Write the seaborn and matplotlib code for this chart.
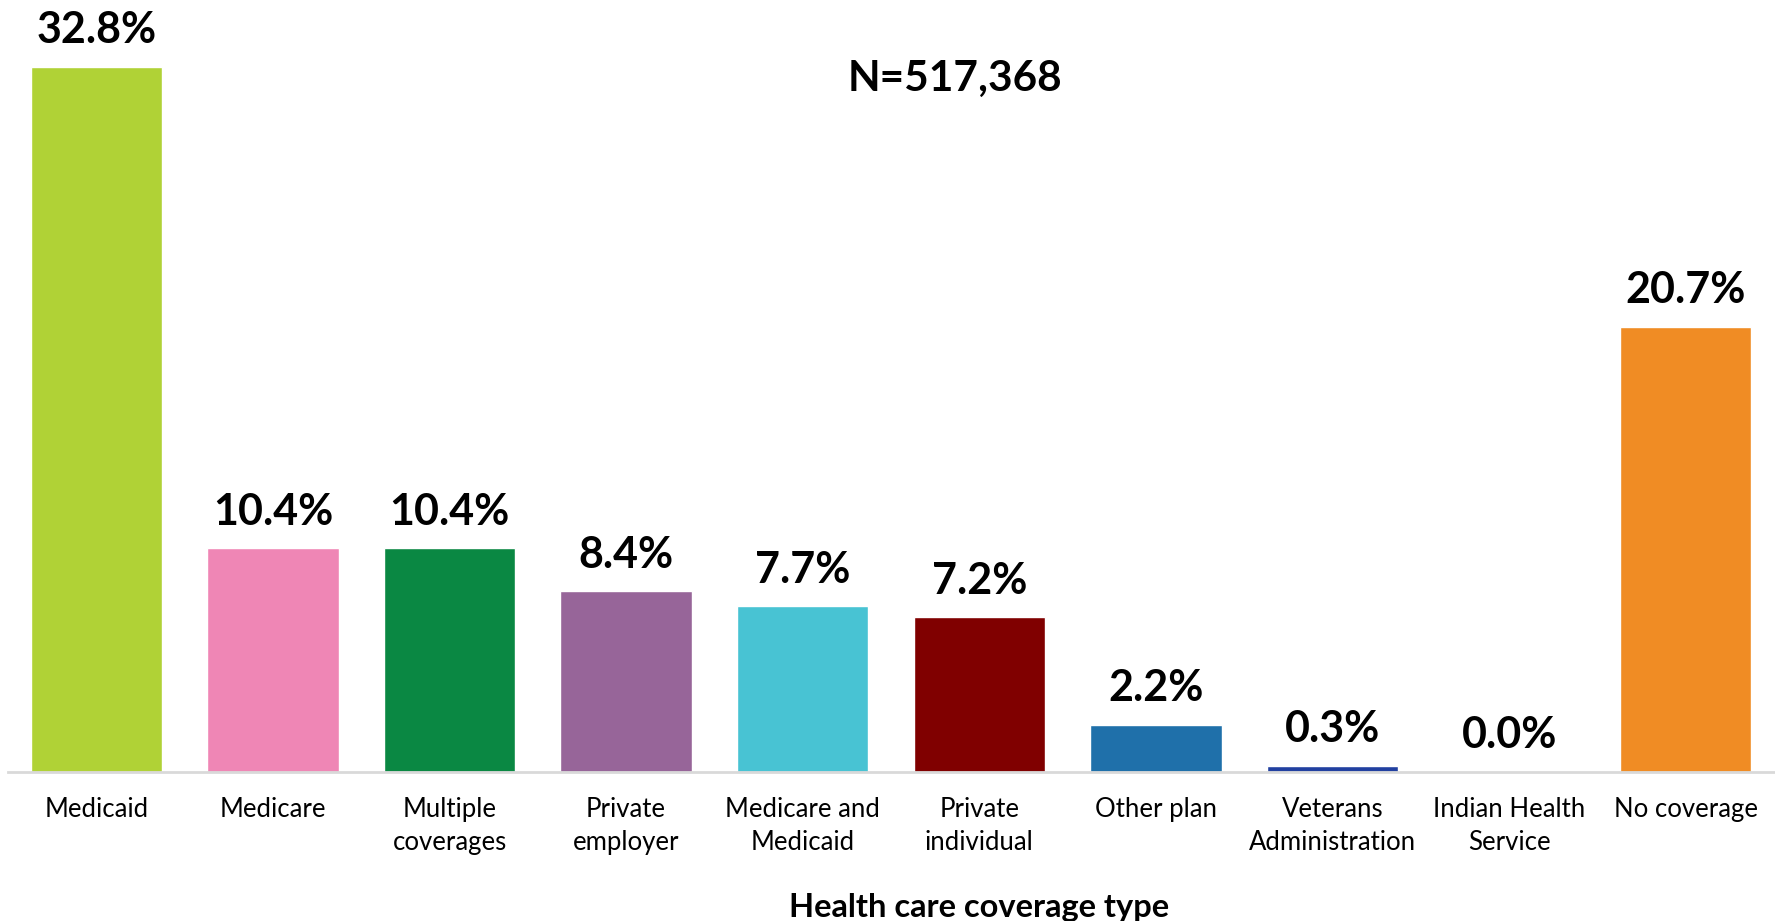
import matplotlib
matplotlib.use("Agg")
import matplotlib.pyplot as plt
import seaborn as sns
import pandas as pd

categories = ["Medicaid", "Medicare", "Multiple\ncoverages", "Private\nemployer",
              "Medicare and\nMedicaid", "Private\nindividual", "Other plan",
              "Veterans\nAdministration", "Indian Health\nService", "No coverage"]
values = [32.8, 10.4, 10.4, 8.4, 7.7, 7.2, 2.2, 0.3, 0.0, 20.7]
colors = ["#B0D236", "#EF86B5", "#0A8843", "#976599", "#48C3D3",
          "#800000", "#1F70AA", "#2140A0", "#7F7F7F", "#F08C24"]
title_text = "N=517,368"
xlabel_text = "Health care coverage type"

sns.set_theme(style="white")
plt.rcParams["font.family"] = ["Lato", "DejaVu Sans"]

df = pd.DataFrame({"cat": categories, "val": values})

fig = plt.figure(figsize=(17.75, 9.21), dpi=100)
ax = fig.add_axes([8 / 1775, 149 / 921, 1766 / 1775, 772 / 921])
sns.barplot(data=df, x="cat", y="val", hue="cat", palette=colors,
            legend=False, width=0.745, saturation=1, ax=ax)

ax.set_xlim(-0.5, len(categories) - 0.5)
ax.set_ylim(0, 35.9)

for i, v in enumerate(values):
    ax.annotate(f"{v:.1f}%", xy=(i, v), xytext=(0, 12), textcoords="offset points",
                ha="center", va="bottom", fontsize=31, fontweight="bold",
                color="black", annotation_clip=False)

ax.text(0.536, 0.898, title_text, transform=ax.transAxes, ha="center", va="center",
        fontsize=30.5, fontweight="bold", color="black")

for s in ["top", "right", "left"]:
    ax.spines[s].set_visible(False)
ax.spines["bottom"].set_color("#D9D9D9")
ax.spines["bottom"].set_linewidth(2)
ax.set_yticks([])
ax.set_ylabel("")
ax.set_xlabel("")
ax.tick_params(axis="x", length=0, pad=18, labelsize=18.5, labelcolor="black")
for lbl in ax.get_xticklabels():
    lbl.set_linespacing(1.42)
    lbl.set_va("top")

fig.text(979 / 1775, 1 - 907 / 921, xlabel_text, ha="center", va="center",
         fontsize=23.5, fontweight="bold", color="black")

fig.savefig("out.png", dpi=100, facecolor="white")
